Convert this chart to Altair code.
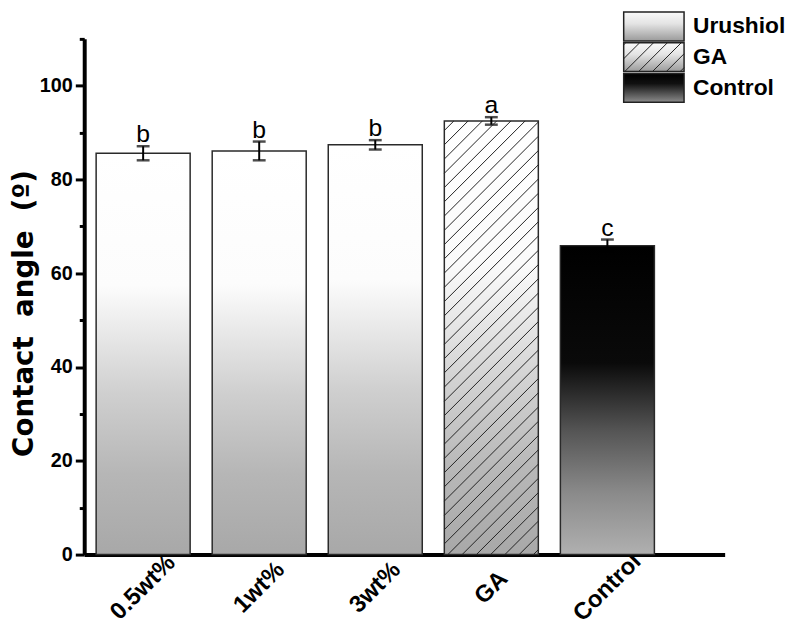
import altair as alt
import pandas as pd

# ---------------- data ----------------
categories = ["0.5wt%", "1wt%", "3wt%", "GA", "Control"]
groups = ["Urushiol", "Urushiol", "Urushiol", "GA", "Control"]
values = [85.6, 86.1, 87.4, 92.5, 65.9]
errors = [1.5, 2.0, 1.0, 0.8, 1.3]
letters = ["b", "b", "b", "a", "c"]
legend_labels = ["Urushiol", "GA", "Control"]
y_major = [0, 20, 40, 60, 80, 100]
y_minor = [10, 30, 50, 70, 90, 110]
y_title = "Contact\u00a0 angle\u00a0 (\u00ba)"

# ---------------- layout / style ----------------
W, H = 647, 521
YMAX = 110
PAD_IN, PAD_OUT, ALIGN = 0.19, 0.354, 0.145
FONT = "Liberation Sans"

df = pd.DataFrame({"cat": categories, "group": groups, "value": values,
                   "err": errors, "letter": letters})
df["lo"] = df["value"] - df["err"]
df["hi"] = df["value"] + df["err"]


def grad(stops):
    return alt.Gradient(gradient="linear", x1=0, y1=0, x2=0, y2=1,
                        stops=[alt.GradientStop(offset=o, color=c) for o, c in stops])


bar_fill = {
    "Urushiol": grad([(0, "#ffffff"), (0.33, "#fcfcfc"), (0.6, "#cfcfcf"), (0.8, "#b6b6b6"), (1, "#a8a8a8")]),
    "GA": grad([(0, "#ffffff"), (0.33, "#fbfbfb"), (0.6, "#d2d2d2"), (0.8, "#b8b8b8"), (1, "#a8a8a8")]),
    "Control": grad([(0, "#000000"), (0.38, "#0a0a0a"), (0.6, "#555555"), (0.8, "#8a8a8a"), (1, "#b0b0b0")]),
}
legend_fill = {
    "Urushiol": grad([(0, "#fafafa"), (0.4, "#e4e4e4"), (1, "#9a9a9a")]),
    "GA": grad([(0, "#fafafa"), (0.4, "#e4e4e4"), (1, "#9a9a9a")]),
    "Control": grad([(0, "#000000"), (0.35, "#101010"), (1, "#8c8c8c")]),
}

xscale = alt.Scale(domain=categories, paddingInner=PAD_IN, paddingOuter=PAD_OUT, align=ALIGN)
yscale = alt.Scale(domain=[0, YMAX], nice=False, zero=True)

xaxis = alt.Axis(title=None, labelAngle=-45, labelAlign="center", labelBaseline="middle",
                 labelPadding=33, ticks=False, domainWidth=4, domainColor="black",
                 labelFont=FONT, labelFontSize=24, labelFontWeight="bold", labelColor="black",
                 grid=False)
yaxis = alt.Axis(title=y_title, values=y_major, tickSize=9, tickWidth=3, tickColor="black",
                 domainWidth=4, domainColor="black", labelPadding=3, grid=False,
                 labelFont=FONT, labelFontSize=20, labelFontWeight="bold", labelColor="black",
                 titleFont="DejaVu Sans", titleFontSize=28, titleFontWeight="bold", titleColor="black",
                 titleX=-52, titleY=277, titleAngle=-90, titleAlign="center",
                 titleBaseline="alphabetic")


def X():
    return alt.X("cat:N", scale=xscale, axis=xaxis, sort=categories, title=None)


base = alt.Chart(df)

bars = [
    base.mark_bar(fill=bar_fill[g], stroke="#2a2a2a", strokeWidth=1.5)
    .transform_filter(alt.datum.group == g)
    .encode(x=X(), y=alt.Y("value:Q", scale=yscale, axis=yaxis, title=y_title))
    for g in legend_labels
]

err_rule = base.mark_rule(color="black", strokeWidth=2).encode(
    x=X(), y=alt.Y("lo:Q", scale=yscale, axis=yaxis, title=y_title), y2="hi:Q")
err_cap_hi = base.mark_tick(color="black", orient="horizontal", size=13, thickness=2.5).encode(
    x=X(), y=alt.Y("hi:Q", scale=yscale, axis=yaxis, title=y_title))
err_cap_lo = base.mark_tick(color="black", orient="horizontal", size=13, thickness=2.5).encode(
    x=X(), y=alt.Y("lo:Q", scale=yscale, axis=yaxis, title=y_title))
sig = base.mark_text(font=FONT, fontSize=25, color="black", baseline="alphabetic", dy=-4).encode(
    x=X(), y=alt.Y("hi:Q", scale=yscale, axis=yaxis, title=y_title), text="letter:N")

main = alt.layer(*bars, err_rule, err_cap_hi, err_cap_lo, sig)

# ---------------- hatch of the GA bar (computed from the GA value) ----------------
n = len(categories)
step = W / (n - PAD_IN + 2 * PAD_OUT)
start = (W - step * (n - PAD_IN)) * ALIGN
bw = step * (1 - PAD_IN)
px_per_unit = H / YMAX
gi = categories.index("GA")
gx0 = start + gi * step
gh = values[gi] * px_per_unit
hatch_rows = []
c = -bw + 5.0
while c < gh:
    t0, t1 = max(0.0, -c), min(bw, gh - c)
    if t1 > t0:
        hatch_rows.append({"x": gx0 + t0, "x2": gx0 + t1,
                           "y": (t0 + c) / px_per_unit, "y2": (t1 + c) / px_per_unit})
    c += 14.4
hatch_df = pd.DataFrame(hatch_rows)

hatch = alt.Chart(hatch_df).mark_rule(color="#222222", strokeWidth=1).encode(
    x=alt.X("x:Q", scale=alt.Scale(domain=[0, W], nice=False, zero=False), axis=None),
    x2="x2:Q",
    y=alt.Y("y:Q", scale=alt.Scale(domain=[0, YMAX], nice=False),
            axis=alt.Axis(orient="left", values=y_minor, labels=False, domain=False,
                          tickSize=5, tickWidth=3, tickColor="black", grid=False, title=None)),
    y2="y2:Q",
)

# ---------------- legend (boxes with gradients) ----------------
leg_df = pd.DataFrame({"label": legend_labels, "i": list(range(len(legend_labels)))})
leg_df["y0"] = leg_df["i"] + 0.03
leg_df["y1"] = leg_df["i"] + 0.97
leg_df["ym"] = leg_df["i"] + 0.5
lx = alt.Scale(domain=[0, 1], range=[545, 606], nice=False, zero=False)
ly = alt.Scale(domain=[0, 3], range=[-28, 65], nice=False, zero=False)

leg_boxes = [
    alt.Chart(leg_df).mark_rect(fill=legend_fill[g], stroke="#222222", strokeWidth=1.5)
    .transform_filter(alt.datum.label == g)
    .encode(x=alt.X("x0:Q", scale=lx, axis=None), x2="x1:Q",
            y=alt.Y("y0:Q", scale=ly, axis=None), y2="y1:Q")
    .transform_calculate(x0="0", x1="1")
    for g in legend_labels
]

# hatch inside the GA legend box
box_w, box_h, row_px = 61.0, 0.94 * 31.0, 31.0
gi_leg = legend_labels.index("GA")
bottom = gi_leg + 0.97
lrows = []
c = -box_w + 4.0
while c < box_h:
    t0, t1 = max(0.0, -c), min(box_w, box_h - c)
    if t1 > t0:
        lrows.append({"x": t0 / box_w, "x2": t1 / box_w,
                      "y": bottom - (t0 + c) / row_px, "y2": bottom - (t1 + c) / row_px})
    c += 14.0
leg_hatch = alt.Chart(pd.DataFrame(lrows)).mark_rule(color="#222222", strokeWidth=1).encode(
    x=alt.X("x:Q", scale=lx, axis=None), x2="x2:Q",
    y=alt.Y("y:Q", scale=ly, axis=None), y2="y2:Q")

leg_text = alt.Chart(leg_df).mark_text(font=FONT, fontSize=23, fontWeight="bold", color="black",
                                       align="left", baseline="middle", dx=9).encode(
    x=alt.X("x1:Q", scale=lx, axis=None),
    y=alt.Y("ym:Q", scale=ly, axis=None), text="label:N").transform_calculate(x1="1")

legend = alt.layer(*leg_boxes, leg_hatch, leg_text)

chart = (
    alt.layer(main, hatch, legend)
    .resolve_scale(x="independent", y="independent")
    .properties(width=W, height=H,
                autosize=alt.AutoSizeParams(type="none"),
                padding={"left": 77, "top": 28, "right": 64, "bottom": 74})
    .configure_view(stroke=None)
)

chart.save("out.html", embed_options={"renderer": "svg", "actions": False})
